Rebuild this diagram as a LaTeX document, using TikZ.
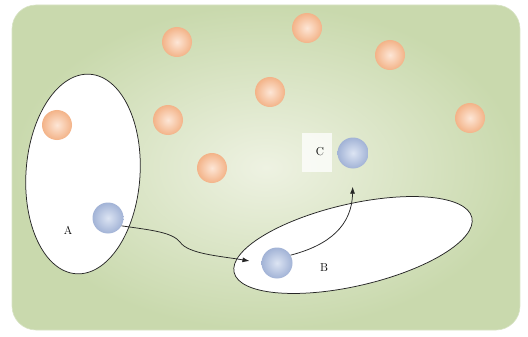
\documentclass[tikz,border=0pt]{standalone}
\usetikzlibrary{shapes.geometric,arrows.meta}
\definecolor{bgedge}{HTML}{C9D9AD}
\definecolor{bgmid}{HTML}{EEF2E2}
\definecolor{peachin}{HTML}{FDE6D6}
\definecolor{peachout}{HTML}{F3B388}
\definecolor{bluein}{HTML}{DCE4F3}
\definecolor{blueout}{HTML}{A2B3D6}
\tikzset{
  orangeball/.style={circle, minimum size=30pt, inner sep=0pt, shading=radial, inner color=peachin, outer color=peachout},
  blueball/.style={circle, minimum size=31pt, inner sep=0pt, shading=radial, inner color=bluein, outer color=blueout},
  region/.style={ellipse, draw=black!85, line width=0.75pt, fill=white, inner sep=0pt},
  lbl/.style={font=\fontsize{11.5}{13}\selectfont, inner sep=1pt},
  arr/.style={draw=black!85, line width=0.75pt, -{Latex[length=7pt,width=5pt]}}
}
\begin{document}
\begin{tikzpicture}[x=1pt,y=-1pt]
\useasboundingbox (0,0) rectangle (528,337);
\fill[white] (0,0) rectangle (528,337);
% background panel
\shade[inner color=bgmid, outer color=bgedge, rounded corners=24pt]
  (12,5) rectangle (520,330);
\draw[bgedge!70!white, line width=0.6pt, rounded corners=24pt]
  (12,5) rectangle (520,330);
% regions
\node[region, minimum width=114pt, minimum height=200pt, rotate=-4] (ra) at (83,174) {};
\node[region, minimum width=244pt, minimum height=82pt, rotate=13] (rb) at (353,245) {};
% orange balls
\node[orangeball] (o1) at (177,42) {};
\node[orangeball] (o2) at (307,28) {};
\node[orangeball] (o3) at (390,55) {};
\node[orangeball] (o4) at (270,92) {};
\node[orangeball] (o5) at (168,120) {};
\node[orangeball] (o6) at (212,168) {};
\node[orangeball] (o7) at (470,118) {};
\node[orangeball] (o8) at (57,125) {};
% white patch behind C
\fill[white, opacity=0.75] (302,133) rectangle (332,172);
% blue balls
\node[blueball] (a) at (108,218) {};
\node[blueball] (b) at (277,263) {};
\node[blueball] (c) at (353,153) {};
% labels
\node[lbl] (la) at (68,230) {A};
\node[lbl] (lb) at (324,268) {B};
\node[lbl] (lc) at (320,152) {C};
% connectors
\coordinate (w1) at (180,242);
\draw[arr, shorten >=12pt] (a.-30) .. controls (150,230) and (172,232) .. (w1)
  .. controls (188,254) and (220,256) .. (b.west);
\draw[arr, shorten >=18pt] (b.30) .. controls (330,245) and (352,225) .. (c.south);
\end{tikzpicture}
\end{document}
